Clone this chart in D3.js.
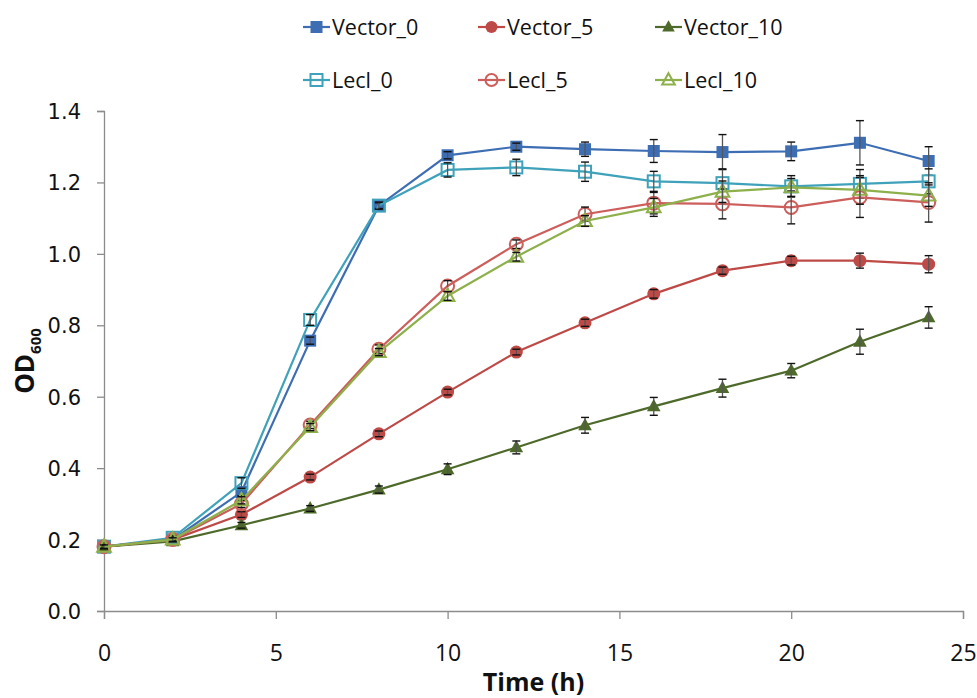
<!DOCTYPE html>
<html>
<head>
<meta charset="utf-8">
<script src="https://cdn.jsdelivr.net/npm/d3@7"></script>
<style>
  html, body { margin: 0; padding: 0; background: #fff; }
  svg { display: block; }
</style>
</head>
<body>
<svg id="chart" width="977" height="698"></svg>
<script>
// ---- data ----
const times = [0, 2, 4, 6, 8, 10, 12, 14, 16, 18, 20, 22, 24];
const seriesNames = ["Vector_0", "Vector_5", "Vector_10", "LecI_0", "LecI_5", "LecI_10"];
const legendLabels = ["Vector_0", "Vector_5", "Vector_10", "Lecl_0", "Lecl_5", "Lecl_10"];
const vector0 = [0.180, 0.200, 0.333, 0.757, 1.135, 1.276, 1.300, 1.293, 1.288, 1.285, 1.287, 1.311, 1.260];
const vector5 = [0.180, 0.200, 0.270, 0.375, 0.496, 0.613, 0.725, 0.807, 0.888, 0.953, 0.981, 0.981, 0.971];
const vector10 = [0.180, 0.195, 0.240, 0.287, 0.340, 0.397, 0.458, 0.520, 0.573, 0.624, 0.673, 0.754, 0.822];
const lecI0 = [0.180, 0.205, 0.358, 0.815, 1.135, 1.235, 1.242, 1.230, 1.203, 1.198, 1.189, 1.196, 1.203];
const lecI5 = [0.180, 0.200, 0.300, 0.521, 0.733, 0.910, 1.027, 1.111, 1.142, 1.140, 1.130, 1.158, 1.144];
const lecI10 = [0.180, 0.200, 0.310, 0.515, 0.725, 0.882, 0.992, 1.092, 1.130, 1.174, 1.186, 1.179, 1.163];
const errVector0 = [0.005, 0.005, 0.010, 0.010, 0.008, 0.010, 0.010, 0.020, 0.032, 0.049, 0.026, 0.062, 0.040];
const errVector5 = [0.005, 0.005, 0.008, 0.008, 0.008, 0.008, 0.008, 0.010, 0.012, 0.010, 0.012, 0.021, 0.024];
const errVector10 = [0.005, 0.005, 0.008, 0.008, 0.010, 0.015, 0.018, 0.022, 0.025, 0.025, 0.020, 0.035, 0.030];
const errLecI0 = [0.005, 0.005, 0.015, 0.015, 0.010, 0.020, 0.023, 0.027, 0.028, 0.040, 0.030, 0.040, 0.035];
const errLecI5 = [0.005, 0.005, 0.010, 0.010, 0.012, 0.015, 0.012, 0.020, 0.030, 0.042, 0.046, 0.056, 0.055];
const errLecI10 = [0.005, 0.005, 0.010, 0.010, 0.010, 0.012, 0.012, 0.015, 0.025, 0.030, 0.025, 0.040, 0.030];
const xTicks = [0, 5, 10, 15, 20, 25];
const yTicks = [0, 0.2, 0.4, 0.6, 0.8, 1.0, 1.2, 1.4];

// ---- styles ----
const styles = [
  { color: "#3D6DB3", shape: "square", filled: true },
  { color: "#BE4A47", shape: "circle", filled: true },
  { color: "#4E6A2A", shape: "triangle", filled: true },
  { color: "#3FA2BA", shape: "square", filled: false },
  { color: "#CC5E5B", shape: "circle", filled: false },
  { color: "#8DB04B", shape: "triangle", filled: false }
];
const values = [vector0, vector5, vector10, lecI0, lecI5, lecI10];
const errors = [errVector0, errVector5, errVector10, errLecI0, errLecI5, errLecI10];
const series = seriesNames.map((n, i) => ({
  name: n, label: legendLabels[i], style: styles[i],
  points: times.map((t, j) => ({ t, v: values[i][j], e: errors[i][j] }))
}));

const svg = d3.select("#chart");
const M = { left: 104, right: 963, top: 111, bottom: 611 };
const x = d3.scaleLinear().domain([0, 25]).range([M.left, M.right]);
const y = d3.scaleLinear().domain([0, 1.4]).range([M.bottom, M.top]);
const axisColor = "#8C8C8C";
const font = "'Open Sans', 'Liberation Sans', sans-serif";

// axes
const yAxis = svg.append("g").attr("transform", `translate(${M.left},0)`)
  .call(d3.axisLeft(y).tickValues(yTicks).tickFormat(d3.format(".1f")).tickSize(7).tickPadding(16));
const xAxis = svg.append("g").attr("transform", `translate(0,${M.bottom})`)
  .call(d3.axisBottom(x).tickValues(xTicks).tickFormat(d3.format("d")).tickSize(8).tickPadding(26));
[xAxis, yAxis].forEach(g => {
  g.select(".domain").attr("stroke", axisColor).attr("stroke-width", 1.3);
  g.selectAll(".tick line").attr("stroke", axisColor).attr("stroke-width", 1.3);
  g.selectAll(".tick text").attr("fill", "#111").attr("font-family", font);
});
yAxis.selectAll(".tick text").attr("font-size", 21).attr("font-family", "'DejaVu Sans', Verdana, sans-serif").attr("dy", "0.36em");
xAxis.selectAll(".tick text").attr("font-size", 23);

// axis titles
svg.append("text").attr("x", x(12.5)).attr("y", 691).attr("text-anchor", "middle")
  .attr("font-family", font).attr("font-weight", "bold")
  .attr("font-size", 25).attr("fill", "#111").text("Time (h)");
const yt = svg.append("text").attr("transform", `translate(34,${(M.top + M.bottom) / 2}) rotate(-90)`)
  .attr("text-anchor", "middle").attr("font-family", font)
  .attr("font-weight", "bold").attr("font-size", 26).attr("fill", "#111");
yt.append("tspan").text("OD");
yt.append("tspan").attr("font-size", 15).attr("dy", 7).text("600");

// marker drawing
function drawMarker(g, st, cx, cy, size) {
  const sw = 2;
  const fill = st.filled ? st.color : "#fff";
  const fillOpacity = st.filled ? 1 : 0;
  if (st.shape === "square") {
    const s = size;
    g.append("rect").attr("x", cx - s / 2).attr("y", cy - s / 2).attr("width", s).attr("height", s)
      .attr("fill", fill).attr("fill-opacity", fillOpacity).attr("stroke", st.color).attr("stroke-width", st.filled ? 0 : sw);
  } else if (st.shape === "circle") {
    g.append("circle").attr("cx", cx).attr("cy", cy).attr("r", size / 2)
      .attr("fill", fill).attr("fill-opacity", fillOpacity).attr("stroke", st.color).attr("stroke-width", st.filled ? 0 : sw);
  } else {
    const h = size * 0.95, w = size * 1.05;
    const pts = [[cx, cy - h * 0.6], [cx + w / 2, cy + h * 0.4], [cx - w / 2, cy + h * 0.4]];
    g.append("polygon").attr("points", pts.map(p => p.join(",")).join(" "))
      .attr("fill", fill).attr("fill-opacity", fillOpacity).attr("stroke", st.color).attr("stroke-width", st.filled ? 0 : sw);
  }
}

const line = d3.line().x(d => x(d.t)).y(d => y(d.v));
const plot = svg.append("g");

// draw series
series.forEach(s => {
  const g = plot.append("g");
  g.append("path").datum(s.points).attr("d", line).attr("fill", "none")
    .attr("stroke", s.style.color).attr("stroke-width", 2.2);
  s.points.forEach(p => {
    drawMarker(g, s.style, x(p.t), y(p.v), s.style.shape === "square" ? 12 : 13);
  });
  // error bars
  s.points.forEach(p => {
    const y1 = y(p.v + p.e), y2 = y(p.v - p.e), cx = x(p.t);
    g.append("line").attr("x1", cx).attr("x2", cx).attr("y1", y1).attr("y2", y2)
      .attr("stroke", "#555").attr("stroke-width", 1.3);
    [y1, y2].forEach(yy => g.append("line").attr("x1", cx - 4).attr("x2", cx + 4).attr("y1", yy).attr("y2", yy)
      .attr("stroke", "#111").attr("stroke-width", 1.4));
  });
});

// legend
const legendCols = [303, 478, 655];
const legendRows = [27, 80];
series.forEach((s, i) => {
  const lx = legendCols[i % 3], ly = legendRows[Math.floor(i / 3)];
  const g = svg.append("g");
  g.append("line").attr("x1", lx).attr("x2", lx + 27).attr("y1", ly).attr("y2", ly)
    .attr("stroke", s.style.color).attr("stroke-width", 2.2);
  drawMarker(g, s.style, lx + 13.5, ly, 12);
  g.append("text").attr("x", lx + 29).attr("y", ly).attr("dy", "0.36em")
    .attr("font-family", font).attr("font-size", 21.5)
    .attr("fill", "#111").text(s.label);
});
</script>
</body>
</html>
